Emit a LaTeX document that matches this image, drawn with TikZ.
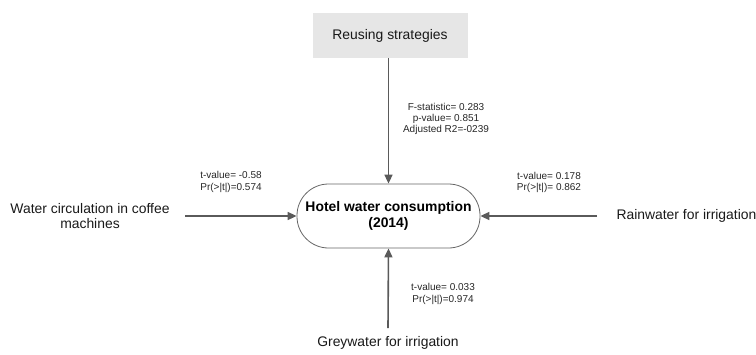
\documentclass[tikz,border=0pt]{standalone}
\usepackage{fontspec}
\setmainfont{Liberation Sans}
\usetikzlibrary{arrows.meta}
\definecolor{boxgray}{HTML}{E6E6E6}
\definecolor{linegray}{HTML}{5A5A5A}
\begin{document}
\begin{tikzpicture}[x=1pt,y=-1pt,
  factor/.style={font=\fontsize{13.9}{15}\selectfont, align=center, text=black!90},
  stat/.style={font=\fontsize{10}{11.3}\selectfont, align=center, text=black!85},
  link/.style={draw=linegray, line width=1.6pt, -{Triangle[length=9pt,width=8pt]}},
]
\useasboundingbox (0,0) rectangle (756,354);
% moderator box
\node[fill=boxgray, minimum width=155pt, minimum height=45pt, factor] (reuse) at (390,35.5) {Reusing strategies};
% outcome: stadium-shaped node
\node[draw=black!60, line width=0.8pt, rectangle, rounded corners=31.5pt, inner sep=0pt,
      minimum width=183pt, minimum height=64pt,
      font=\bfseries\fontsize{13.9}{15.5}\selectfont, align=center] (hotel) at (388.5,216) {Hotel water consumption\\(2014)};
% predictors
\node[factor] (coffee) at (90,216.5) {Water circulation in coffee\\machines};
\node[factor, anchor=west] (rain) at (613,216) {Rainwater for irrigation};
\node[factor] (grey) at (388,343) {Greywater for irrigation};
% connector end points
\coordinate (cl) at (185,216);
\coordinate (cr) at (597,216);
\coordinate (cb) at (388,328);
\draw[link] (reuse.south -| hotel.north) -- (hotel.north);
\draw[link] (cl) -- (hotel.west);
\draw[link] (cr) -- (hotel.east);
\draw[link] (cb) -- (hotel.south);
% statistics
\node[stat] (fstat) at (446,119) {F-statistic= 0.283\\p-value= 0.851\\Adjusted R2=-0239};
\node[stat] (tleft) at (231,182) {t-value= -0.58\\Pr(>|t|)=0.574};
\node[stat] (tright) at (549,182.5) {t-value= 0.178\\Pr(>|t|)= 0.862};
\node[stat] (tbottom) at (443,294) {t-value= 0.033\\Pr(>|t|)=0.974};
\end{tikzpicture}
\end{document}
